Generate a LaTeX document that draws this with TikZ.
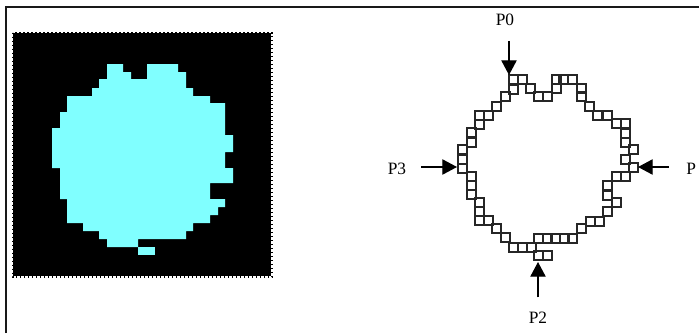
\documentclass[tikz,border=0pt]{standalone}
\usepackage{xcolor}
\usepackage{fontspec}
\setmainfont{Liberation Serif}
\usepackage{tikz}
\usetikzlibrary{arrows.meta}
\definecolor{blob}{HTML}{80FFFF}
\tikzset{
    pointer/.style={draw=black, line width=0.9pt, -{Triangle[length=11pt, width=11.5pt]}},
    plabel/.style={inner sep=0pt, font=\fontsize{13}{15}\selectfont},
    cell/.style={draw=black!85, line width=1.05pt}
}

\begin{document}
\begin{tikzpicture}[x=0.75pt, y=-0.75pt]
    \useasboundingbox (0,0) rectangle (699,333);
    % Frame
    \draw[line width=1.5pt, color=black!90] (5.5,333) -- (5.5,6.5) -- (699,6.5);
    % Black background
    \fill[black] (13,33) rectangle (271,276);
    \draw[black, line width=1pt, dotted] (12.5,32.5) rectangle (272,277);
    % Blob
    \fill[blob] (107,64) -- (123,64) -- (123,72) -- (131,72) -- (131,79) -- (147,79) -- (147,64)
        -- (178,64) -- (178,72) -- (186,72) -- (186,88) -- (193,88) -- (193,96) -- (210,96)
        -- (210,103) -- (225,103) -- (225,135) -- (233,135) -- (233,152) -- (225,152)
        -- (225,168) -- (233,168) -- (233,183) -- (210,183) -- (210,199) -- (225,199)
        -- (225,207) -- (218,207) -- (218,215) -- (210,215) -- (210,223) -- (193,223)
        -- (193,231) -- (186,231) -- (186,239) -- (138,239) -- (138,247) -- (107,247)
        -- (107,239) -- (99,239) -- (99,231) -- (83,231) -- (83,223) -- (67,223)
        -- (67,199) -- (60,199) -- (60,168) -- (52,168) -- (52,128) -- (60,128)
        -- (60,112) -- (67,112) -- (67,96) -- (92,96) -- (92,88) -- (99,88)
        -- (99,79) -- (107,79) -- cycle;
    \fill[blob] (138,247) rectangle (155,255);
    % Boundary cells
    \foreach \x/\y in {509/75, 518/75, 509/85, 526/84, 534/92, 543/92, 552/75, 559/75, 568/75,
        552/84, 577/84, 577/92, 585/102, 593/111, 603/111, 612/119, 621/119, 621/129, 621/138,
        629/145, 621/155, 629/163, 621/172, 612/172, 603/181, 603/191, 612/198, 603/207,
        595/217, 586/217, 577/224, 568/234, 560/234, 551/234, 543/234, 534/234, 534/251,
        543/251, 527/243, 518/243, 509/243, 501/233, 492/224, 484/216, 475/216, 475/207,
        475/198, 467/190, 467/181, 467/172, 458/164, 458/155, 458/145, 467/138, 467/128,
        475/120, 475/111, 484/111, 492/102, 501/92}
        \draw[cell] (\x,\y) rectangle +(9,9);
    % Labels
    \node[plabel] (labelzero) at (505,20) {P0};
    \node[plabel, anchor=west] (labelone) at (686,169) {P};
    \node[plabel] (labeltwo) at (538,318) {P2};
    \node[plabel] (labelthree) at (397,169) {P3};
    % Arrow tips
    \coordinate (tipzero) at (509,75);
    \coordinate (tipone) at (638,167);
    \coordinate (tiptwo) at (538,262);
    \coordinate (tipthree) at (457,167);
    % Arrows
    \draw[pointer, shorten <=11pt] (labelzero.south -| tipzero) -- (tipzero);
    \draw[pointer, shorten <=13pt] (labelone.west |- tipone) -- (tipone);
    \draw[pointer, shorten <=11pt] (labeltwo.north -| tiptwo) -- (tiptwo);
    \draw[pointer, shorten <=11pt] (labelthree.east |- tipthree) -- (tipthree);
\end{tikzpicture}
\end{document}
